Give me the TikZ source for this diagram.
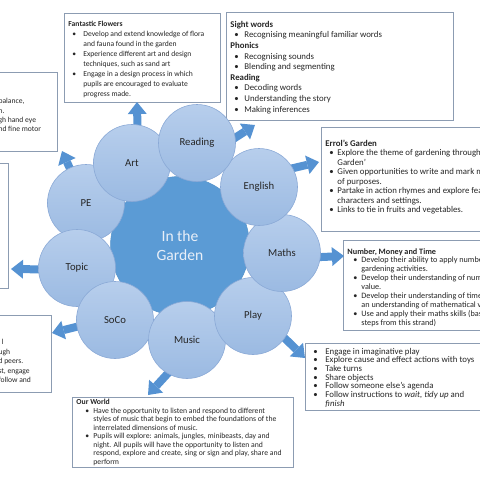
\documentclass[tikz,border=0pt]{standalone}
\usepackage{fontspec}
\setmainfont{Carlito}
\usetikzlibrary{arrows.meta, positioning, backgrounds}
\definecolor{arrblue}{HTML}{5592D2}
\definecolor{hubblue}{HTML}{5B9BD5}
\definecolor{ringblue}{HTML}{8AA9D6}
\definecolor{lighttop}{HTML}{B7CEEC}
\definecolor{lightbot}{HTML}{9BBAE2}
\definecolor{boxline}{HTML}{8C9CB2}
\definecolor{inktext}{HTML}{262626}
\definecolor{hubtext}{HTML}{E9EFF8}

\newlength\bulx \newlength\txtx
\newcommand{\itm}{\par\noindent\hangindent=\txtx\hangafter=1\makebox[\txtx][l]{\hspace*{\bulx}\textbullet}}
\newcommand{\hd}[1]{\par\noindent\textbf{#1}}
\newcommand{\fsz}[2]{\fontsize{#1}{#2}\selectfont}
\newcommand{\nl}{\newline}
% width, height, top gap, body
\newcommand{\boxbody}[4]{\begin{minipage}[t][#2][t]{#1}\raggedright\vspace*{#3}#4\end{minipage}}

\begin{document}
\begin{tikzpicture}[
    x=1pt, y=-1pt,
    box/.style={draw=boxline, line width=0.9pt, fill=white, inner xsep=4pt,
        inner ysep=0pt, text=inktext},
    sub/.style={circle, minimum size=77pt, inner sep=0pt, draw=ringblue,
        line width=0.6pt, top color=lighttop, bottom color=lightbot,
        font=\fsz{10.7}{12}, text=inktext},
    hub/.style={circle, minimum size=139pt, inner sep=0pt, fill=hubblue,
        draw=hubblue!95!black, line width=0.5pt, align=center,
        font=\fsz{15.6}{19}, text=hubtext},
    blk/.style={line width=8pt, draw=arrblue, shorten <=-6pt,
        -{Triangle[width=19pt, length=12pt, line width=0pt]}}
]
\useasboundingbox (0,0) rectangle (480,480);
% ===== TEXT BOXES =====
\begin{scope}[on background layer]
\node[box, anchor=north west] (ff) at (64,13) {\boxbody{148pt}{89pt}{7.5pt}{%
    \fsz{7.6}{10}\setlength\bulx{4pt}\setlength\txtx{15pt}
    \hd{Fantastic Flowers}
    \itm Develop and extend knowledge of flora\nl and fauna found in the garden
    \itm Experience different art and design\nl techniques, such as sand art
    \itm Engage in a design process in which\nl pupils are encouraged to evaluate\nl progress made.}};
\node[box, anchor=north west] (sw) at (226,12) {\boxbody{219pt}{108pt}{8.6pt}{%
    \fsz{8.8}{10.6}\setlength\bulx{4pt}\setlength\txtx{14pt}
    \hd{Sight words}
    \itm Recognising meaningful familiar words
    \hd{Phonics}
    \itm Recognising sounds
    \itm Blending and segmenting
    \hd{Reading}
    \itm Decoding words
    \itm Understanding the story
    \itm Making inferences}};
\node[box, anchor=north west] (errol) at (321,127) {\boxbody{190pt}{104pt}{12.5pt}{%
    \fsz{8.8}{9.5}\setlength\bulx{4pt}\setlength\txtx{12pt}
    \hd{Errol’s Garden}
    \itm Explore the theme of gardening through\nl Garden’
    \itm Given opportunities to write and mark make\nl of purposes.
    \itm Partake in action rhymes and explore features\nl characters and settings.
    \itm Links to tie in fruits and vegetables.}};
\node[box, anchor=north west] (num) at (343,240) {\boxbody{190pt}{90pt}{7.8pt}{%
    \fsz{8.2}{8.9}\setlength\bulx{6pt}\setlength\txtx{14pt}
    \hd{Number, Money and Time}
    \itm Develop their ability to apply number\nl gardening activities.
    \itm Develop their understanding of number\nl value.
    \itm Develop their understanding of time\nl an understanding of mathematical value
    \itm Use and apply their maths skills (based\nl steps from this strand)}};
\node[box, anchor=north west] (playbox) at (305,343) {\boxbody{190pt}{67pt}{4.6pt}{%
    \fsz{8.8}{8.7}\setlength\bulx{4pt}\setlength\txtx{16pt}
    \itm Engage in imaginative play
    \itm Explore cause and effect actions with toys
    \itm Take turns
    \itm Share objects
    \itm Follow someone else’s agenda
    \itm Follow instructions to \textit{wait, tidy up} and\nl \textit{finish}}};
\node[box, anchor=north west] (ow) at (72,397) {\boxbody{213pt}{70pt}{2pt}{%
    \fsz{7.7}{8.5}\setlength\bulx{9pt}\setlength\txtx{17pt}
    \hd{Our World}
    \itm Have the opportunity to listen and respond to different\nl styles of music that begin to embed the foundations of the\nl interrelated dimensions of music.
    \itm Pupils will explore: animals, jungles, minibeasts, day and\nl night. All pupils will have the opportunity to listen and\nl respond, explore and create, sing or sign and play, share and\nl perform}};
\node[box, anchor=north east] (pebox) at (58,72) {\boxbody{55pt}{79pt}{26pt}{%
    \fsz{7.6}{9.3}balance,\\n.\\gh hand eye\\nd fine motor}};
\node[box, anchor=north east, minimum width=30pt, minimum height=125pt] (topicbox) at (9,163) {};
\node[box, anchor=north east] (socobox) at (52,315) {\boxbody{49pt}{77pt}{24pt}{%
    \fsz{7.6}{9.5}\hspace*{3pt}l\\ugh\\d peers.\\st, engage\\follow and}};
\end{scope}
% ===== CIRCLES =====
\node[hub] (garden) at (180,246) {In the\\Garden};
\node[sub] (pe)      at (86,203)  {PE};
\node[sub] (topic)   at (77,268)  {Topic};
\node[sub] (soco)    at (115,320) {SoCo};
\node[sub] (music)   at (187,340) {Music};
\node[sub] (play)    at (253,316) {Play};
\node[sub] (maths)   at (282,253) {Maths};
\node[sub] (english) at (259,187) {English};
\node[sub] (art)     at (132,163) {Art};
\node[sub] (reading) at (197,143) {Reading};
% ===== BLOCK ARROWS =====
\coordinate (tip-art)   at (137,102);
\coordinate (tip-read)  at (255,125);
\coordinate (tip-eng)   at (319,162);
\coordinate (tip-math)  at (344,256);
\coordinate (tip-play)  at (305,358);
\coordinate (tip-mus)   at (148,395);
\coordinate (tip-soco)  at (52,333);
\coordinate (tip-topic) at (11,269);
\coordinate (tip-pe)    at (62,151);
\begin{scope}[on background layer]
\draw[blk] (art.82) -- (tip-art);
\draw[blk] (reading.8) -- (tip-read);
\draw[blk] (english.29) -- (tip-eng);
\draw[blk] (maths.-6) -- (tip-math);
\draw[blk] (play.-35) -- (tip-play);
\draw[blk] (music.-120) -- (tip-mus);
\draw[blk] (soco.190) -- (tip-soco);
\draw[blk] (topic.182) -- (tip-topic);
\draw[blk] (pe.115) -- (tip-pe);
\end{scope}
\end{tikzpicture}
\end{document}
